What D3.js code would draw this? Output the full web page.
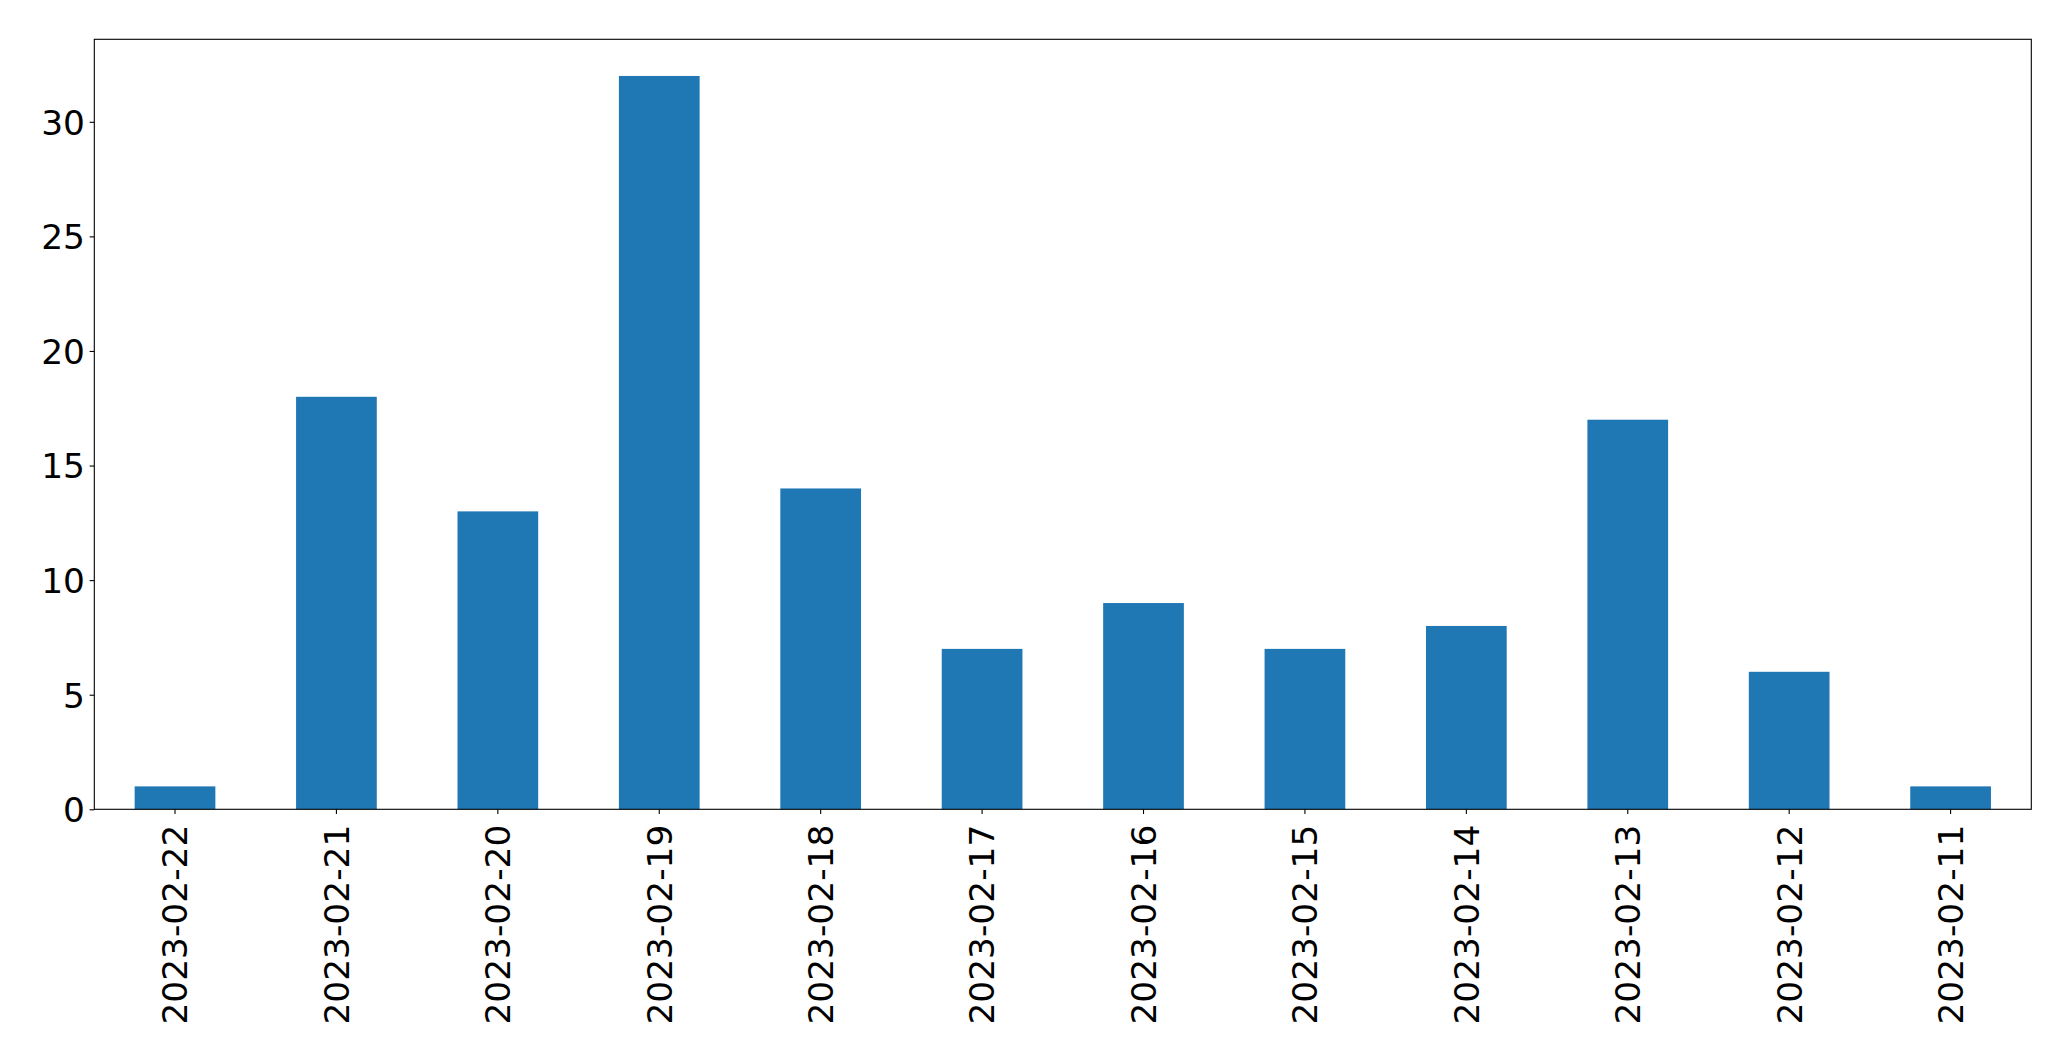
<!DOCTYPE html>
<html>
<head>
<meta charset="utf-8">
<script src="https://cdn.jsdelivr.net/npm/d3@7"></script>
<style>
  html, body { margin: 0; padding: 0; background: #fff; }
  svg { display: block; }
  text { font-family: "DejaVu Sans", sans-serif; }
</style>
</head>
<body>
<svg id="chart" width="2071" height="1061"></svg>
<script>
const categories = ["2023-02-22","2023-02-21","2023-02-20","2023-02-19","2023-02-18","2023-02-17","2023-02-16","2023-02-15","2023-02-14","2023-02-13","2023-02-12","2023-02-11"];
const values = [1, 18, 13, 32, 14, 7, 9, 7, 8, 17, 6, 1];
const yTicks = [0, 5, 10, 15, 20, 25, 30];

(function () {
const svg = d3.select("#chart");
const mLeft = 94.3, mRight = 2031.3, mTop = 39.3, mBottom = 809.3;
const fontSize = 34.4;
const tickLen = 4.7, pad = 4.7;

const x = d3.scaleBand().domain(categories).range([mLeft, mRight]).paddingInner(0.5).paddingOuter(0.25);
const yMax = d3.max(values) * 1.05;
const y = d3.scaleLinear().domain([0, yMax]).range([mBottom, mTop]);

// bars
svg.append("g").selectAll("rect").data(values).join("rect")
  .attr("x", (d, i) => x(categories[i]))
  .attr("width", x.bandwidth())
  .attr("y", d => y(d))
  .attr("height", d => y(0) - y(d))
  .attr("fill", "#1f77b4");

// y axis
const yAxis = d3.axisLeft(y).tickValues(yTicks).tickSize(tickLen).tickPadding(pad).tickFormat(d3.format("d"));
const gy = svg.append("g").attr("transform", `translate(${mLeft},0)`).call(yAxis);
gy.select(".domain").remove();
gy.selectAll(".tick line").attr("stroke", "#000").attr("stroke-width", 1.1);
gy.selectAll(".tick text").attr("font-size", fontSize).attr("font-family", "DejaVu Sans").attr("fill", "#000").attr("dy", "0.36em");

// x axis
const xAxis = d3.axisBottom(x).tickSize(tickLen).tickPadding(pad);
const gx = svg.append("g").attr("transform", `translate(0,${mBottom})`).call(xAxis);
gx.select(".domain").remove();
gx.selectAll(".tick line").attr("stroke", "#000").attr("stroke-width", 1.1);
gx.selectAll(".tick text")
  .attr("font-size", fontSize).attr("font-family", "DejaVu Sans").attr("fill", "#000")
  .attr("text-anchor", "end")
  .attr("transform", "rotate(-90)")
  .attr("x", -(tickLen + pad + 6))
  .attr("y", 0)
  .attr("dy", "0.36em");

// frame
svg.append("rect")
  .attr("x", mLeft).attr("y", mTop)
  .attr("width", mRight - mLeft).attr("height", mBottom - mTop)
  .attr("fill", "none").attr("stroke", "#000").attr("stroke-width", 1.1);
})();
</script>
</body>
</html>
